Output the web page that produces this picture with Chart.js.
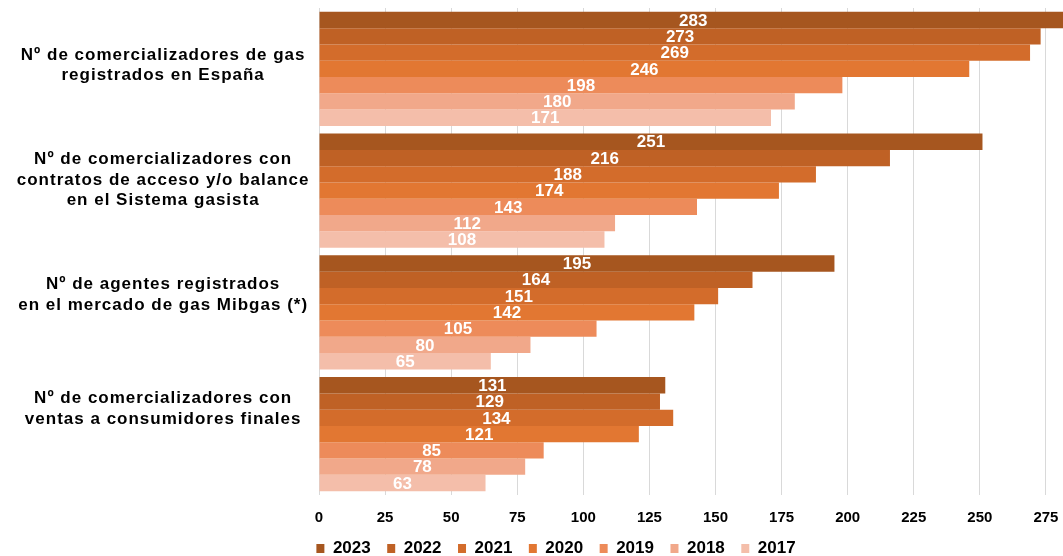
<!DOCTYPE html>
<html>
<head>
<meta charset="utf-8">
<script src="https://cdn.jsdelivr.net/npm/chart.js@4.4.1/dist/chart.umd.min.js"></script>
<style>
  html, body { margin: 0; padding: 0; background: #fff; overflow: hidden; width: 1063px; height: 556px; }
  #wrap { width: 1130px; height: 567px; position: relative; }
</style>
</head>
<body>
<div id="wrap"><canvas id="c"></canvas></div>
<script>
// ---- data ----
const categories = [
  ["Nº de comercializadores de gas", "registrados en España"],
  ["Nº de comercializadores con", "contratos de acceso y/o balance", "en el Sistema gasista"],
  ["Nº de agentes registrados", "en el mercado de gas Mibgas (*)"],
  ["Nº de comercializadores con", "ventas a consumidores finales"]
];
const years = ["2023", "2022", "2021", "2020", "2019", "2018", "2017"];
const v2023 = [283, 251, 195, 131];
const v2022 = [273, 216, 164, 129];
const v2021 = [269, 188, 151, 134];
const v2020 = [246, 174, 142, 121];
const v2019 = [198, 143, 105, 85];
const v2018 = [180, 112, 80, 78];
const v2017 = [171, 108, 65, 63];
const xTicks = [0, 25, 50, 75, 100, 125, 150, 175, 200, 225, 250, 275, 300];

// ---- styles ----
const colors = ["#A6561F", "#BF6125", "#D36C2B", "#E27732", "#ED8B5A", "#F1A88A", "#F4BEAA"];
const seriesValues = [v2023, v2022, v2021, v2020, v2019, v2018, v2017];
const LAB_MIN = -0.5, LAB_MAX = 3.75;

const datasets = years.map((y, i) => ({
  label: y,
  data: seriesValues[i],
  backgroundColor: colors[i],
  borderWidth: 0,
  yAxisID: 'y',
  categoryPercentage: 0.937,
  barPercentage: 1.0
}));

const valueLabels = {
  id: 'valueLabels',
  afterDatasetsDraw(chart) {
    const ctx = chart.ctx;
    ctx.save();
    ctx.font = 'bold 17px "Liberation Sans", Arial, sans-serif';
    ctx.fillStyle = '#ffffff';
    ctx.textAlign = 'center';
    ctx.textBaseline = 'middle';
    chart.data.datasets.forEach((ds, di) => {
      const meta = chart.getDatasetMeta(di);
      meta.data.forEach((el, j) => {
        const cx = (el.x + el.base) / 2;
        ctx.fillText(String(ds.data[j]), cx, el.y + 1);
      });
    });
    ctx.restore();
  }
};

const labelSpacing = {
  id: 'labelSpacing',
  afterUpdate(chart) {
    const s = chart.scales.yLab;
    if (s && !s._patched) {
      const orig = s.drawLabels;
      s.drawLabels = function (area) {
        const ctx = this.ctx;
        ctx.save();
        if ('letterSpacing' in ctx) ctx.letterSpacing = '1px';
        orig.call(this, area);
        ctx.restore();
      };
      s._patched = true;
    }
  }
};

new Chart(document.getElementById('c'), {
  type: 'bar',
  data: { labels: categories.map(c => c.join(' ')), datasets },
  plugins: [valueLabels, labelSpacing],
  options: {
    indexAxis: 'y',
    responsive: true,
    maintainAspectRatio: false,
    animation: false,
    layout: { padding: { top: 8, right: 18, left: 0, bottom: 0 } },
    plugins: {
      tooltip: { enabled: false },
      legend: {
        position: 'bottom',
        labels: {
          boxWidth: 8,
          boxHeight: 9,
          padding: 16.5,
          color: '#000',
          font: { family: '"Liberation Sans", Arial, sans-serif', size: 17, weight: 'bold' }
        }
      }
    },
    scales: {
      x: {
        type: 'linear',
        min: 0,
        max: 300,
        position: 'bottom',
        afterBuildTicks: (axis) => { axis.ticks = xTicks.map(v => ({ value: v })); },
        afterFit: (axis) => {
          axis.height = 28.5;
          axis.paddingRight = 0;
          axis.paddingLeft = 0;
        },
        grid: { color: '#D9D9D9', lineWidth: 1, drawTicks: false },
        border: { display: false },
        ticks: {
          padding: 14,
          color: '#000',
          maxRotation: 0,
          autoSkip: false,
          font: { family: '"Liberation Sans", Arial, sans-serif', size: 15, weight: 'bold' }
        }
      },
      y: {
        type: 'category',
        display: false,
        offset: true
      },
      yLab: {
        type: 'linear',
        position: 'left',
        reverse: true,
        offset: false,
        min: LAB_MIN,
        max: LAB_MAX,
        afterBuildTicks: (axis) => { axis.ticks = categories.map((c, i) => ({ value: i })); },
        afterFit: (axis) => {
          axis.width = 319;
          axis.paddingTop = 0;
          axis.paddingBottom = 0;
        },
        grid: { display: false, drawTicks: false, offset: false },
        border: { display: false },
        ticks: {
          autoSkip: false,
          crossAlign: 'center',
          padding: 25,
          color: '#000',
          callback: (v) => categories[v],
          font: { family: '"Liberation Sans", Arial, sans-serif', size: 17, weight: 'bold', lineHeight: 1.22 }
        }
      }
    }
  }
});
</script>
</body>
</html>
